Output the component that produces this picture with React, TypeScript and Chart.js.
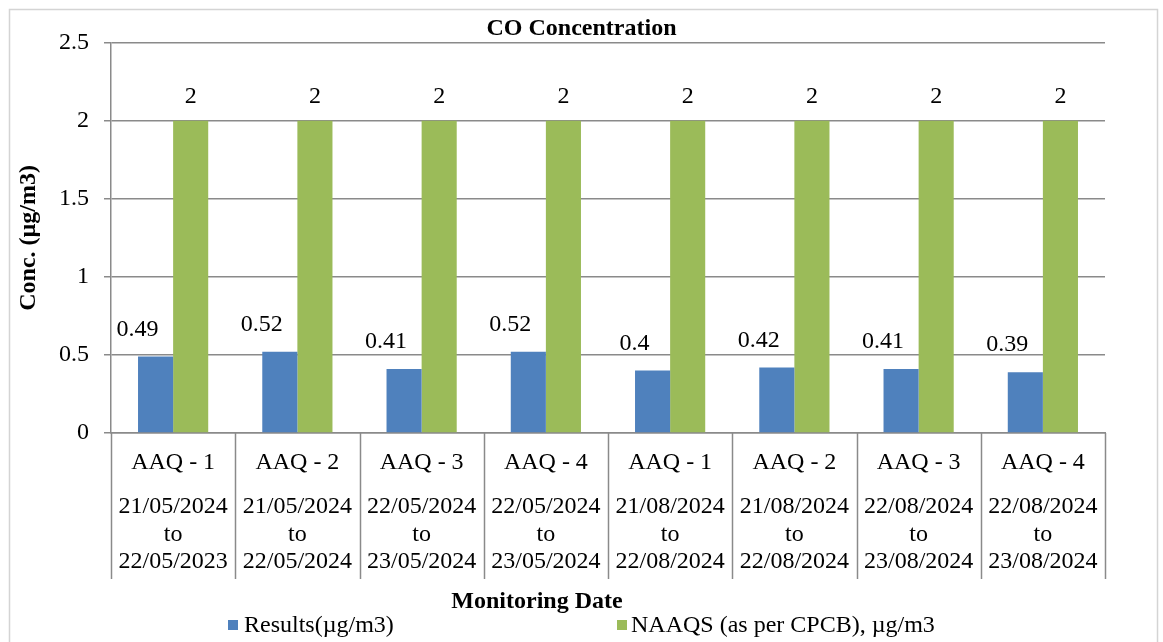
import React, { useEffect, useRef } from "react";
import { Chart, registerables } from "chart.js";

Chart.register(...registerables);

const categories = ["AAQ - 1", "AAQ - 2", "AAQ - 3", "AAQ - 4", "AAQ - 1", "AAQ - 2", "AAQ - 3", "AAQ - 4"];
const dateRanges = [
  ["21/05/2024", "to", "22/05/2023"],
  ["21/05/2024", "to", "22/05/2024"],
  ["22/05/2024", "to", "23/05/2024"],
  ["22/05/2024", "to", "23/05/2024"],
  ["21/08/2024", "to", "22/08/2024"],
  ["21/08/2024", "to", "22/08/2024"],
  ["22/08/2024", "to", "23/08/2024"],
  ["22/08/2024", "to", "23/08/2024"],
];
const resultsValues = [0.49, 0.52, 0.41, 0.52, 0.4, 0.42, 0.41, 0.39];
const naaqsValues = [2, 2, 2, 2, 2, 2, 2, 2];
const seriesNames = ["Results(µg/m3)", "NAAQS (as per CPCB), µg/m3"];
const chartTitle = "CO Concentration";
const yTitle = "Conc. (µg/m3)";
const xTitle = "Monitoring Date";

const BLUE = "#4F81BD";
const GREEN = "#9BBB59";
const GRID = "#8a8a8a";
const FONT = "'Liberation Serif', 'Times New Roman', serif";

const decorPlugin = {
  id: "decor",
  beforeDraw(chart: any) {
    const ctx = chart.ctx;
    ctx.save();
    ctx.fillStyle = "#fff";
    ctx.fillRect(0, 0, chart.width, chart.height);
    ctx.strokeStyle = "#d4d4d4";
    ctx.lineWidth = 1.5;
    ctx.strokeRect(9.5, 9.5, 1148, 640);
    ctx.restore();
  },
  afterDraw(chart: any) {
    const ctx = chart.ctx;
    const area = chart.chartArea;
    ctx.save();
    ctx.strokeStyle = GRID;
    ctx.lineWidth = 1.5;
    const n = categories.length;
    const step = (area.right - area.left) / n;
    for (let i = 0; i <= n; i++) {
      const x = Math.round(area.left + step * i) + 0.5;
      ctx.beginPath();
      ctx.moveTo(x, area.bottom);
      ctx.lineTo(x, 579);
      ctx.stroke();
    }
    ctx.fillStyle = "#000";
    ctx.font = `bold 24px ${FONT}`;
    ctx.textAlign = "center";
    ctx.textBaseline = "middle";
    ctx.fillText(xTitle, 537, 602);
    ctx.font = `24px ${FONT}`;
    ctx.textAlign = "left";
    ctx.fillStyle = BLUE;
    ctx.fillRect(228, 620, 10, 10);
    ctx.fillStyle = "#000";
    ctx.fillText(seriesNames[0], 244, 626);
    ctx.fillStyle = GREEN;
    ctx.fillRect(617, 620, 10, 10);
    ctx.fillStyle = "#000";
    ctx.fillText(seriesNames[1], 631, 626);
    ctx.restore();
  },
  afterDatasetsDraw(chart: any) {
    const ctx = chart.ctx;
    ctx.save();
    ctx.font = `24px ${FONT}`;
    ctx.fillStyle = "#000";
    ctx.textAlign = "center";
    ctx.textBaseline = "middle";
    chart.data.datasets.forEach((ds: any, di: number) => {
      const meta = chart.getDatasetMeta(di);
      meta.data.forEach((el: any, i: number) => {
        const v = ds.data[i];
        if (di === 0) ctx.fillText(String(v), el.x - 18, el.y - 27);
        else ctx.fillText(String(v), el.x, el.y - 24);
      });
    });
    ctx.restore();
  },
};

export default function App() {
  const ref = useRef<HTMLCanvasElement | null>(null);
  useEffect(() => {
    if (!ref.current) return;
    const chart = new Chart(ref.current, {
      type: "bar",
      data: {
        labels: categories,
        datasets: [
          { label: seriesNames[0], data: resultsValues, backgroundColor: BLUE, categoryPercentage: 0.565, barPercentage: 1 },
          { label: seriesNames[1], data: naaqsValues, backgroundColor: GREEN, categoryPercentage: 0.565, barPercentage: 1 },
        ],
      },
      options: {
        responsive: false,
        animation: false,
        layout: { padding: { left: 0, right: 0, top: 0, bottom: 0 } },
        plugins: {
          legend: { display: false },
          tooltip: { enabled: false },
          title: {
            display: true,
            text: chartTitle,
            color: "#000",
            font: { family: FONT, size: 24, weight: "bold" },
            padding: { top: 14, bottom: 0 },
          },
        },
        scales: {
          x: {
            type: "category",
            position: "bottom",
            grid: { display: false, drawTicks: false },
            border: { display: true, color: GRID, width: 1.5 },
            ticks: { color: "#000", font: { family: FONT, size: 24, lineHeight: 1.15 }, padding: 16, maxRotation: 0, autoSkip: false },
            afterFit: (s: any) => { s.height = 50; },
          },
          x2: {
            type: "category",
            position: "bottom",
            labels: dateRanges as any,
            grid: { display: false, drawTicks: false },
            border: { display: false },
            ticks: { color: "#000", font: { family: FONT, size: 24, lineHeight: 1.15 }, padding: 10, maxRotation: 0, autoSkip: false },
            afterFit: (s: any) => { s.height = 159; },
          },
          y: {
            min: 0,
            max: 2.5,
            ticks: { stepSize: 0.5, color: "#000", font: { family: FONT, size: 24 }, padding: 15, callback: (v: any) => String(v) },
            grid: { color: GRID, lineWidth: 1.5, tickLength: 7 },
            border: { color: GRID, width: 1.5 },
            title: { display: true, text: yTitle, color: "#000", font: { family: FONT, size: 24, weight: "bold" }, padding: { top: 14, bottom: 0 } },
            afterFit: (s: any) => { s.width = 111; },
          },
          yR: {
            position: "right",
            grid: { display: false, drawTicks: false },
            border: { display: false },
            ticks: { display: false },
            afterFit: (s: any) => { s.width = 58; },
          },
        },
      },
      plugins: [decorPlugin],
    });
    return () => chart.destroy();
  }, []);
  return (
    <div style={{ position: "absolute", left: 0, top: 0, width: 1163, height: 642, background: "#fff" }}>
      <canvas ref={ref} width={1163} height={642} />
    </div>
  );
}
